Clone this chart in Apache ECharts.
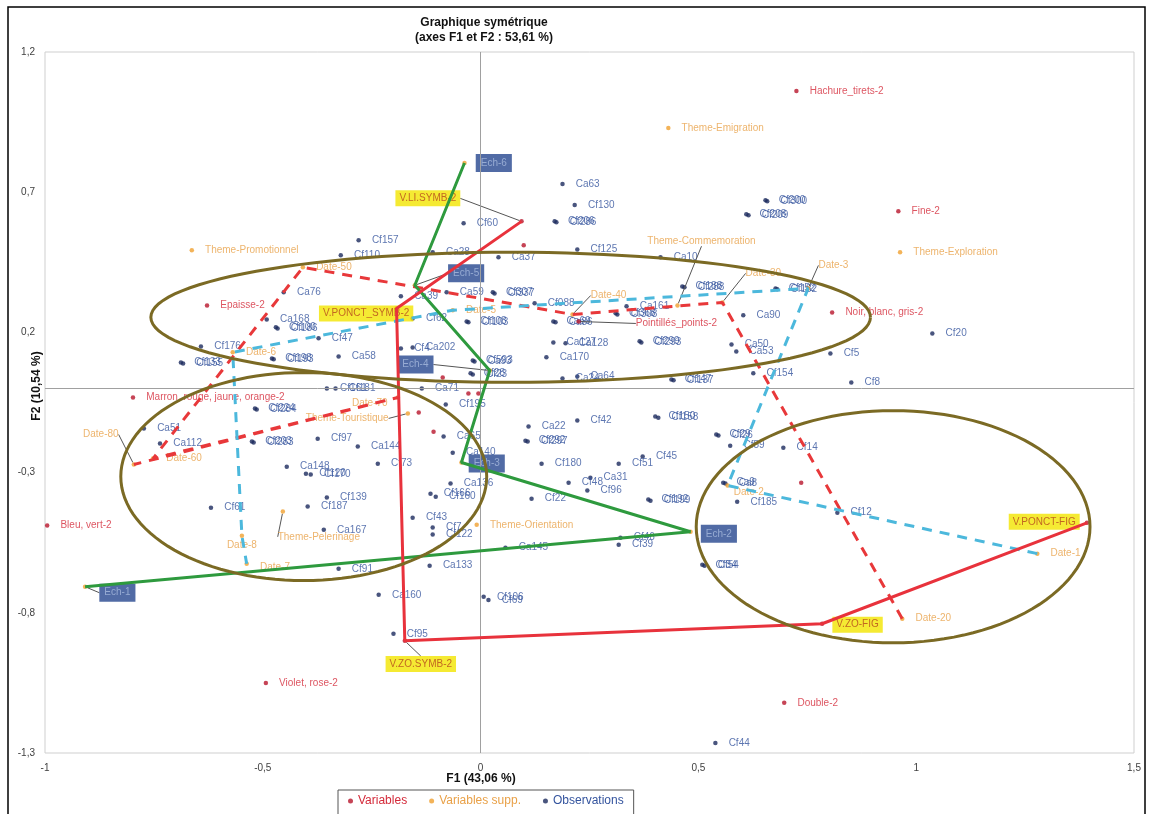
<!DOCTYPE html>
<html><head><meta charset="utf-8">
<script src="https://cdn.jsdelivr.net/npm/echarts@6/dist/echarts.min.js"></script>
<style>html,body{margin:0;padding:0;background:#fff}#chart{width:1153px;height:814px}</style>
</head><body><div id="chart"></div>
<script>
// ---------- tick labels ----------
const xTicks = [-1, -0.5, 0, 0.5, 1, 1.5];
const yTicks = [-1.3, -0.8, -0.3, 0.2, 0.7, 1.2];

// ---------- Observations ----------
const obsNames = ['Ca63','Cf130','Cf206','Cf286','Cf125','Ca37','Cf60','Ca28','Cf157','Cf110',
 'Cf200','Cf300','Cf208','Cf209','Ca10','Cf188','Cf288','Cf152','Cf182','Ca90',
 'Ca161','Cf368','Cf308','Ca69','Ca86','Cf108','Cf103','Ca59','Cf307','Cf337',
 'Cf088','Ca39','Cf62','Cf47','Ca168','Cf100','Cf186','Ca76','Cf176','Cf133',
 'Cf155','Cf198','Cf193','Ca58','Cf4','Ca202','Cf593','Ca93','Cf28','Cf23',
 'Cf161','Cf181','Ca71','Cf195','Cf224','Cf284','Cf203','Cf283','Cf97','Ca144',
 'Ca51','Ca112','Cf73','Ca148','Cf120','Cf170','Cf139','Cf187','Ca167','Cf61',
 'Cf91','Ca160','Cf95','Ca133','Cf43','Cf7','Cf122','Ca136','Cf166','Cf160',
 'Ca65','Ca140','Cf180','Cf51','Cf45','Ca31','Cf48','Cf96','Cf22','Cf192',
 'Cf199','Ca22','Cf42','Cf292','Cf297','Cf150','Cf158','Ca145','Cf39','Cf46',
 'Cf106','Cf69','Cf34','Cf54','Cf44','Cf12','Cf185','Ca9','Ca8','Cf29',
 'Cf26','Cf59','Cf14','Cf5','Cf8','Cf20','Cf154','Ca50','Ca53','Cf299',
 'Cf293','Ca127','Ca128','Ca170','Ca24','Ca64','Cf147','Cf137'];
const obsX = [0.188,0.216,0.170,0.174,0.222,0.041,-0.039,-0.110,-0.280,-0.321,
 0.654,0.658,0.610,0.615,0.413,0.463,0.468,0.677,0.681,0.603,
 0.335,0.310,0.314,0.167,0.172,-0.032,-0.028,-0.078,0.028,0.032,
 0.124,-0.183,-0.156,-0.372,-0.491,-0.470,-0.466,-0.452,-0.642,-0.688,
 -0.683,-0.479,-0.475,-0.326,-0.183,-0.156,-0.018,-0.014,-0.023,-0.018,
 -0.353,-0.333,-0.135,-0.080,-0.518,-0.514,-0.525,-0.521,-0.374,-0.282,
 -0.773,-0.736,-0.236,-0.445,-0.401,-0.390,-0.353,-0.397,-0.360,-0.619,
 -0.326,-0.234,-0.200,-0.117,-0.156,-0.110,-0.110,-0.069,-0.115,-0.103,
 -0.085,-0.064,0.140,0.317,0.372,0.252,0.202,0.245,0.117,0.385,
 0.390,0.110,0.222,0.103,0.108,0.401,0.408,0.057,0.317,0.321,
 0.007,0.018,0.509,0.514,0.539,0.819,0.589,0.557,0.562,0.541,
 0.546,0.573,0.695,0.803,0.851,1.037,0.626,0.576,0.587,0.365,
 0.369,0.167,0.195,0.151,0.188,0.222,0.438,0.443];
const obsY = [0.729,0.654,0.596,0.593,0.496,0.468,0.589,0.486,0.529,0.475,
 0.671,0.668,0.621,0.618,0.468,0.364,0.361,0.357,0.354,0.261,
 0.293,0.268,0.264,0.239,0.236,0.239,0.236,0.343,0.343,0.339,
 0.304,0.329,0.250,0.179,0.246,0.218,0.214,0.343,0.150,0.093,
 0.089,0.107,0.104,0.114,0.143,0.146,0.100,0.096,0.054,0.050,
 0.000,0.000,0.000,-0.057,-0.071,-0.075,-0.189,-0.193,-0.179,-0.207,
 -0.143,-0.196,-0.268,-0.279,-0.304,-0.307,-0.389,-0.421,-0.504,-0.425,
 -0.643,-0.736,-0.875,-0.632,-0.461,-0.496,-0.521,-0.339,-0.375,-0.386,
 -0.171,-0.229,-0.268,-0.268,-0.243,-0.318,-0.336,-0.364,-0.393,-0.396,
 -0.400,-0.136,-0.114,-0.186,-0.189,-0.100,-0.104,-0.568,-0.557,-0.532,
 -0.743,-0.754,-0.629,-0.632,-1.264,-0.443,-0.404,-0.336,-0.339,-0.164,
 -0.168,-0.204,-0.211,0.125,0.021,0.196,0.054,0.157,0.132,0.168,
 0.164,0.164,0.161,0.111,0.036,0.043,0.032,0.029];

// ---------- Variables ----------
const varNames = ['Hachure_tirets-2','Fine-2','Noir, blanc, gris-2','Epaisse-2','Marron, rouge, jaune, orange-2',
 'Bleu, vert-2','Violet, rose-2','Double-2','Pointillés_points-2','V.LI.SYMB-2',
 'V.PONCT_SYMB-2','V.ZO.SYMB-2','V.ZO-FIG','V.PONCT-FIG','','','','','','',''];
const varX = [0.725,0.959,0.807,-0.628,-0.798,-0.995,-0.493,0.697,0.225,0.094,
 -0.193,-0.174,0.784,1.392,0.099,-0.087,-0.028,-0.005,-0.108,-0.142,0.736];
const varY = [1.061,0.632,0.271,0.296,-0.032,-0.489,-1.050,-1.121,0.239,0.596,
 0.285,-0.900,-0.839,-0.479,0.511,0.039,-0.018,-0.018,-0.154,-0.086,-0.336];

// ---------- Variables supp. ----------
const suppNames = ['Theme-Emigration','Theme-Promotionnel','Theme-Exploration','Theme-Commemoration','Theme-Touristique',
 'Theme-Pelerinage','Theme-Orientation','Date-1','Date-2','Date-3','Date-5','Date-6','Date-8','Date-7',
 'Date-20','Date-30','Date-40','Date-50','Date-60','Date-70','Date-80',
 'Ech-1','Ech-2','Ech-3','Ech-4','Ech-5','Ech-6'];
const suppX = [0.431,-0.663,0.963,0.452,-0.167,-0.454,-0.009,1.278,0.567,0.752,-0.064,-0.569,-0.548,-0.537,
 0.968,0.555,0.211,-0.408,-0.752,-0.190,-0.796,
 -0.908,0.482,-0.044,0.021,-0.151,-0.037];
const suppY = [0.929,0.493,0.486,0.296,-0.089,-0.439,-0.486,-0.589,-0.346,0.357,0.279,0.129,-0.525,-0.625,
 -0.821,0.307,0.264,0.432,-0.250,-0.032,-0.271,
 -0.707,-0.511,-0.264,0.064,0.368,0.804];

// ---------- connecting paths (by point name) ----------
const redSolidPath = ['V.LI.SYMB-2','V.PONCT_SYMB-2','V.ZO.SYMB-2','V.ZO-FIG','V.PONCT-FIG'];
const greenPath = ['Ech-6','Ech-5','Ech-4','Ech-3','Ech-2','Ech-1'];
const redDashPath = ['Date-20','Date-30','Date-40','Date-50','Date-60','Date-70','Date-80'];
const cyanDashPath = ['Date-1','Date-2','Date-3','Date-5','Date-6','Date-8','Date-7'];

// ---------- ellipses (centre and radii, data units) ----------
const ellipseCX = [0.069, -0.406, 0.947];
const ellipseCY = [0.254, -0.314, -0.493];
const ellipseRX = [0.826, 0.420, 0.452];
const ellipseRY = [0.232, 0.371, 0.414];

// ---------- styling ----------
const FONT = '"Liberation Sans", Arial, sans-serif';
const C_VAR = '#b8152c', C_VAR_T = '#d42a3a';
const C_SUP = '#f0a030', C_SUP_T = '#e9a148';
const C_OBS = '#1b2a5e', C_OBS_T = '#34549e';
const yellowBox = {backgroundColor:'#f3e500', color:'#b5461c', padding:[3,4,3,4]};
const navyBox = {backgroundColor:'#25468e', color:'#a9bbdf', padding:[4,5,4,5]};
const callouts = {
 'Date-80': {pos:'left', dx:-2, dy:-30, line:true},
 'Date-40': {pos:'right', dx:5, dy:-19, line:true},
 'Date-30': {pos:'right', dx:10, dy:-29, line:true},
 'Date-3': {pos:'right', dx:-3, dy:-23, line:true},
 'Theme-Commemoration': {pos:'top', dx:24, dy:-46, line:true},
 'Pointillés_points-2': {pos:'right', dx:44, dy:2, line:true},
 'V.LI.SYMB-2': {pos:'left', dx:-48, dy:-23, line:true},
 'V.PONCT_SYMB-2': {pos:'left', dx:30, dy:5},
 'V.ZO.SYMB-2': {pos:'bottom', dx:16, dy:2, line:true},
 'V.ZO-FIG': {pos:'right', dx:-3, dy:1},
 'V.PONCT-FIG': {pos:'left', dx:6, dy:-1},
 'Ech-6': {pos:'right', dx:-2, dy:0},
 'Ech-5': {pos:'right', dx:20, dy:-12, line:true},
 'Ech-4': {pos:'left', dx:-43, dy:-6, line:true},
 'Ech-3': {pos:'right', dx:-6, dy:1},
 'Ech-2': {pos:'right', dx:-3, dy:2},
 'Ech-1': {pos:'right', dx:1, dy:6, line:true},
 'Theme-Touristique': {pos:'left', dx:-6, dy:5, line:true},
 'Date-70': {pos:'left', dx:3, dy:6},
 'Theme-Pelerinage': {pos:'bottom', dx:36, dy:7, line:true},
 'Date-2': {pos:'right', dx:-7, dy:7},
 'Date-8': {pos:'bottom', dx:0, dy:-9},
 'Date-7': {pos:'right', dx:0, dy:4}
};

function buildItems(names, xs, ys) {
  return names.map((n, i) => {
    const item = {name: n, value: [xs[i], ys[i]]};
    const c = callouts[n];
    const lab = {};
    if (c && c.pos) lab.position = c.pos;
    if (n.indexOf('V.') === 0) Object.assign(lab, yellowBox);
    if (n.indexOf('Ech-') === 0) Object.assign(lab, navyBox);
    item.label = lab;
    if (c && c.line) item.labelLine = {show: true, lineStyle: {color: '#555', width: 1}};
    return item;
  });
}
function layoutFor(names) {
  return function (p) {
    const c = callouts[names[p.dataIndex]];
    return c ? {dx: c.dx || 0, dy: c.dy || 0} : {};
  };
}
const allNames = varNames.concat(suppNames);
const allX = varX.concat(suppX), allY = varY.concat(suppY);
function pathCoords(path) {
  return path.map(n => { const i = allNames.indexOf(n); return [allX[i], allY[i]]; });
}
function fmt(v) { return String(Math.round(v * 10) / 10).replace('.', ','); }

function scatterSeries(name, names, xs, ys, dot, txt, z) {
  return {
    type: 'scatter', name: name, z: z, symbolSize: 4.5,
    itemStyle: {color: dot},
    label: {show: true, position: 'right', distance: 11, formatter: '{b}', color: txt, fontSize: 10, fontFamily: FONT},
    labelLine: {show: false},
    labelLayout: layoutFor(names),
    data: buildItems(names, xs, ys)
  };
}
function lineSeries(path, color, dashed) {
  return {
    type: 'line', z: 5, silent: true, symbol: 'none', showSymbol: false,
    lineStyle: {color: color, width: 3, type: dashed ? [10, 8] : 'solid'},
    data: pathCoords(path)
  };
}

const chart = echarts.init(document.getElementById('chart'), null, {renderer: 'canvas'});
const obsSeries = scatterSeries('Observations', obsNames, obsX, obsY, C_OBS, C_OBS_T, 3);
obsSeries.markLine = {silent: true, symbol: 'none', label: {show: false}, animation: false,
  lineStyle: {color: '#a0a0a0', type: 'solid', width: 1}, data: [{xAxis: 0}, {yAxis: 0}]};

chart.setOption({
  animation: false,
  textStyle: {fontFamily: FONT},
  grid: {left: 45, right: 19, top: 52, bottom: 61, show: true, borderColor: '#cfcfcf', borderWidth: 1},
  xAxis: {type: 'value', min: xTicks[0], max: xTicks[xTicks.length - 1],
    axisLine: {show: false}, axisTick: {show: false}, splitLine: {show: false},
    axisLabel: {customValues: xTicks, formatter: fmt, fontSize: 10, color: '#404040', margin: 10}},
  yAxis: {type: 'value', min: yTicks[0], max: yTicks[yTicks.length - 1],
    axisLine: {show: false}, axisTick: {show: false}, splitLine: {show: false},
    axisLabel: {customValues: yTicks, formatter: fmt, fontSize: 10, color: '#404040', margin: 10}},
  legend: {
    data: [{name: 'Variables', textStyle: {color: C_VAR_T}},
           {name: 'Variables supp.', textStyle: {color: C_SUP_T}},
           {name: 'Observations', textStyle: {color: C_OBS_T}}],
    left: 338, top: 790, borderColor: '#555', borderWidth: 1, padding: [5, 10, 12, 10],
    itemGap: 22, icon: 'circle', itemWidth: 5, itemHeight: 5,
    textStyle: {fontSize: 12, fontFamily: FONT}
  },
  graphic: [
    {type: 'rect', z: -10, silent: true, shape: {x: 8, y: 7, width: 1137, height: 840},
      style: {fill: 'none', stroke: '#000', lineWidth: 1.5}},
    {type: 'text', x: 484, y: 23, silent: true, style: {text: 'Graphique symétrique', fontSize: 12, fontWeight: 'bold',
      fontFamily: FONT, fill: '#111', align: 'center', verticalAlign: 'middle'}},
    {type: 'text', x: 484, y: 38, silent: true, style: {text: '(axes F1 et F2 : 53,61 %)', fontSize: 12, fontWeight: 'bold',
      fontFamily: FONT, fill: '#111', align: 'center', verticalAlign: 'middle'}},
    {type: 'text', x: 481, y: 779, silent: true, style: {text: 'F1 (43,06 %)', fontSize: 12, fontWeight: 'bold',
      fontFamily: FONT, fill: '#111', align: 'center', verticalAlign: 'middle'}},
    {type: 'text', x: 37, y: 386, rotation: Math.PI / 2, silent: true, style: {text: 'F2 (10,54 %)', fontSize: 12, fontWeight: 'bold',
      fontFamily: FONT, fill: '#111', align: 'center', verticalAlign: 'middle'}}
  ],
  series: [
    obsSeries,
    scatterSeries('Variables supp.', suppNames, suppX, suppY, C_SUP, C_SUP_T, 4),
    scatterSeries('Variables', varNames, varX, varY, C_VAR, C_VAR_T, 4),
    lineSeries(redDashPath, '#e8383a', true),
    lineSeries(cyanDashPath, '#4cb8dc', true),
    lineSeries(greenPath, '#2e9a3e', false),
    lineSeries(redSolidPath, '#e8323c', false),
    {
      type: 'custom', z: 6, silent: true,
      data: ellipseCX.map((cx, i) => [cx, ellipseCY[i], ellipseRX[i], ellipseRY[i]]),
      encode: {x: 0, y: 1},
      renderItem: function (params, api) {
        const c = api.coord([api.value(0), api.value(1)]);
        const s = api.size([api.value(2), api.value(3)]);
        const pts = [];
        for (let k = 0; k <= 120; k++) {
          const t = k / 120 * 2 * Math.PI;
          pts.push([c[0] + s[0] * Math.cos(t), c[1] + s[1] * Math.sin(t)]);
        }
        return {type: 'polyline', shape: {points: pts}, style: {fill: 'none', stroke: '#7b6a24', lineWidth: 3}};
      }
    }
  ]
});
</script>
</body></html>
